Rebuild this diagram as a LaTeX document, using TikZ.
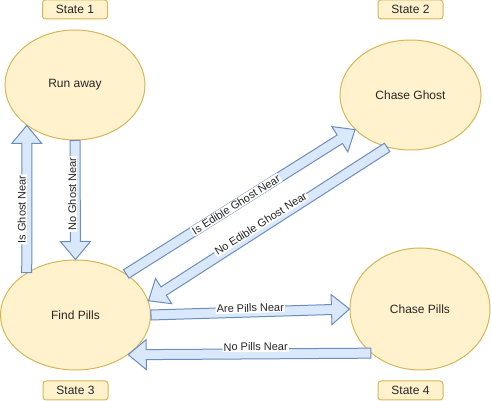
\documentclass[tikz,border=0pt]{standalone}
\usepackage{fontspec}
\setmainfont{Liberation Sans}
\usepackage{xcolor}
\definecolor{statefill}{HTML}{FFF2CC}
\definecolor{statedraw}{HTML}{D6B656}
\definecolor{arrowfill}{HTML}{DAE8FC}
\definecolor{arrowdraw}{HTML}{6C8EBF}
\usepackage{tikz}
\usetikzlibrary{calc}
\usetikzlibrary{positioning}
\usetikzlibrary{shapes.geometric}

\newcommand{\shaftw}{5pt}
\newcommand{\headw}{15pt}
\newcommand{\headl}{18pt}
\newcommand{\blockarrow}[2]{%
    \path (#1) coordinate (t) (#2) coordinate (p)
    ($(p)!\headl!(t)$) coordinate (h);
    \draw [arrowbody]
    ($(t)!\shaftw!90:(p)$)
    -- ($(h)!\shaftw!90:(p)$)
    -- ($(h)!\headw!90:(p)$)
    -- (p)
    -- ($(h)!\headw!-90:(p)$)
    -- ($(h)!\shaftw!-90:(p)$)
    -- ($(t)!\shaftw!-90:(p)$)
    -- cycle;}

\begin{document}
\begin{tikzpicture}[x=1pt, y=-1pt,
    state/.style={ellipse, draw=statedraw, fill=statefill, line width=1pt,
      inner sep=0pt, text=black!85, font=\fontsize{12}{14}\selectfont},
    tag/.style={rectangle, rounded corners=3pt, draw=statedraw, fill=statefill,
      line width=1pt, minimum width=65pt, minimum height=19pt, inner sep=0pt,
      text=black!85, font=\fontsize{12}{14}\selectfont},
    arrowbody/.style={draw=arrowdraw, fill=arrowfill, line width=1pt, line join=miter},
    lbl/.style={fill=white, inner sep=1pt, text=black!85,
      font=\fontsize{11}{13}\selectfont}]

    \useasboundingbox (0, 0) rectangle (491, 401);

    \node [state, minimum width=140pt, minimum height=110pt]
    (runaway) at (75, 85) {Run away};

    \node [state, minimum width=141pt, minimum height=110pt]
    (chaseghost) at (410.5, 95) {Chase Ghost};

    \node [state, minimum width=150pt, minimum height=110pt]
    (findpills) at (75.5, 315) {Find Pills};

    \node [state, minimum width=140pt, minimum height=122pt]
    (chasepills) at (420, 309) {Chase Pills};

    \node [tag, above=10pt of runaway] (state1) {State 1};
    \node [tag, above=20pt of chaseghost] (state2) {State 2};
    \node [tag, below=10pt of findpills] (state3) {State 3};
    \node [tag, below=10pt of chasepills, xshift=-9.5pt] (state4) {State 4};

    \blockarrow{findpills.139}{runaway.220}
    \blockarrow{runaway.south}{findpills.north}
    \blockarrow{findpills.39}{chaseghost.212}
    \blockarrow{chaseghost.246}{findpills.11}
    \blockarrow{findpills.east}{chasepills.west}
    \blockarrow{chasepills.222}{findpills.323}

    \path ($(findpills.139)+(-5, 0)$) -- ($(runaway.220)+(-5, 0)$)
    node [lbl, pos=0.43, sloped] {Is Ghost Near};

    \path ($(runaway.south)+(-3, 0)$) -- ($(findpills.north)+(-3, 0)$)
    node [lbl, pos=0.45, rotate=90] {No Ghost Near};

    \path (findpills.39) -- (chaseghost.212)
    node [lbl, pos=0.48, sloped] {Is Edible Ghost Near};

    \path ($(chaseghost.246)+(0, -5)$) -- ($(findpills.11)+(0, -5)$)
    node [lbl, pos=0.53, sloped] {No Edible Ghost Near};

    \path ($(findpills.east)+(0, -4)$) -- ($(chasepills.west)+(0, -4)$)
    node [lbl, pos=0.5, sloped] {Are Pills Near};

    \path ($(chasepills.222)+(0, -7)$) -- ($(findpills.323)+(0, -7)$)
    node [lbl, pos=0.475, sloped] {No Pills Near};

  \end{tikzpicture}
\end{document}
